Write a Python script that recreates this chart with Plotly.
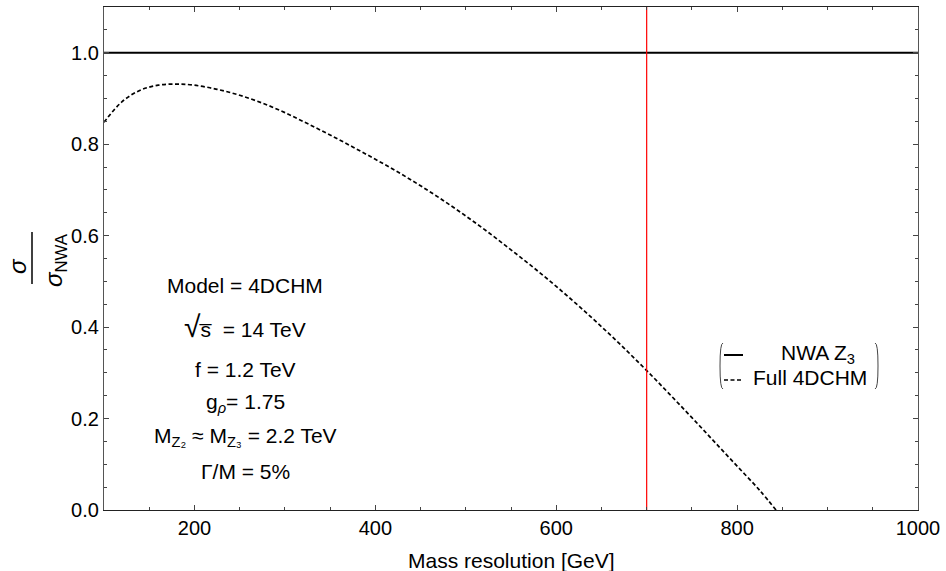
import plotly.graph_objects as go

# Full 4DCHM ratio sigma/sigma_NWA vs mass resolution
mass_res = [100, 120, 140, 160, 180, 200, 225, 250, 275, 300, 325, 350, 375, 400, 425, 450,
            475, 500, 525, 550, 575, 600, 625, 650, 675, 700, 725, 750, 775, 800, 825, 843]
ratio_full = [0.848, 0.893, 0.918, 0.929, 0.9315, 0.929, 0.920, 0.907, 0.890, 0.869, 0.845,
              0.820, 0.794, 0.767, 0.739, 0.709, 0.677, 0.643, 0.607, 0.569, 0.530, 0.489,
              0.446, 0.401, 0.354, 0.305, 0.254, 0.202, 0.149, 0.096, 0.043, 0.0]

nwa_x = [100, 1000]
nwa_y = [1.0, 1.0]

cut_x = [700, 700]
cut_y = [0, 1.1]

x_ticks = [200, 400, 600, 800, 1000]
y_ticks = [0.0, 0.2, 0.4, 0.6, 0.8, 1.0]

info_lines = [
    "Model = 4DCHM",
    "<span style='font-size:30px'>√</span>s̅  = 14 TeV",
    "f = 1.2 TeV",
    "g<sub><i>ρ</i></sub>= 1.75",
    "M<sub>Z₂</sub> ≈ M<sub>Z₃</sub> = 2.2 TeV",
    "Γ/M = 5%",
]

FONT = "Liberation Sans, Arial, Helvetica, sans-serif"


def px_to_paper_x(px):
    return (px - 104) / (918 - 104)


def px_to_paper_y(py):
    return 1 - (py - 7) / (510 - 7)


fig = go.Figure()
fig.add_trace(go.Scatter(x=nwa_x, y=nwa_y, mode="lines",
                         line=dict(color="black", width=2), showlegend=False))
fig.add_trace(go.Scatter(x=mass_res, y=ratio_full, mode="lines", line_shape="spline",
                         line=dict(color="black", width=1.7, dash="4px,2.5px"), showlegend=False))
fig.add_trace(go.Scatter(x=cut_x, y=cut_y, mode="lines",
                         line=dict(color="red", width=1.2), showlegend=False))

# parameter text block
info_y_px = [285, 326, 369, 403, 437, 471]
annotations = []
for txt, ypx in zip(info_lines, info_y_px):
    annotations.append(dict(
        text=txt, x=px_to_paper_x(245), xref="paper", xanchor="center",
        y=px_to_paper_y(ypx), yref="paper", yanchor="middle",
        showarrow=False, font=dict(family=FONT, size=21, color="black")))

# legend texts
annotations.append(dict(text="NWA Z<sub>3</sub>", x=px_to_paper_x(818), y=px_to_paper_y(354),
                        xref="paper", yref="paper", xanchor="center", yanchor="middle",
                        showarrow=False, font=dict(family=FONT, size=21, color="black")))
annotations.append(dict(text="Full 4DCHM", x=px_to_paper_x(810), y=px_to_paper_y(377),
                        xref="paper", yref="paper", xanchor="center", yanchor="middle",
                        showarrow=False, font=dict(family=FONT, size=21, color="black")))

# y-axis label as a fraction
annotations.append(dict(text="<i>σ</i>", x=px_to_paper_x(17), y=px_to_paper_y(266),
                        xref="paper", yref="paper", xanchor="center", yanchor="middle",
                        textangle=-90, showarrow=False,
                        font=dict(family=FONT, size=24, color="black")))
annotations.append(dict(text="<i>σ</i><sub>NWA</sub>", x=px_to_paper_x(55), y=px_to_paper_y(260),
                        xref="paper", yref="paper", xanchor="center", yanchor="middle",
                        textangle=-90, showarrow=False,
                        font=dict(family=FONT, size=24, color="black")))

# x-axis title
annotations.append(dict(text="Mass resolution [GeV]", x=px_to_paper_x(511), y=px_to_paper_y(560),
                        xref="paper", yref="paper", xanchor="center", yanchor="middle",
                        showarrow=False, font=dict(family=FONT, size=21, color="black")))

shapes = [
    # fraction bar
    dict(type="line", xref="paper", yref="paper",
         x0=px_to_paper_x(32), x1=px_to_paper_x(32),
         y0=px_to_paper_y(232), y1=px_to_paper_y(284),
         line=dict(color="black", width=1.5)),
    # legend samples
    dict(type="line", xref="paper", yref="paper",
         x0=px_to_paper_x(724), x1=px_to_paper_x(743),
         y0=px_to_paper_y(355), y1=px_to_paper_y(355),
         line=dict(color="black", width=2)),
    dict(type="line", xref="paper", yref="paper",
         x0=px_to_paper_x(724), x1=px_to_paper_x(743),
         y0=px_to_paper_y(380), y1=px_to_paper_y(380),
         line=dict(color="black", width=1.7, dash="4px,2.5px")),
]
# legend brackets
ytop, ybot = 343, 389
for (xa, xb) in [(px_to_paper_x(723), px_to_paper_x(720)), (px_to_paper_x(875), px_to_paper_x(878))]:
    yt = px_to_paper_y(ytop)
    yb = px_to_paper_y(ybot)
    ym = (yt + yb) / 2
    shapes.append(dict(type="path", xref="paper", yref="paper",
                       path=f"M {xa},{yt} Q {xb},{yt} {xb},{ym} Q {xb},{yb} {xa},{yb}",
                       line=dict(color="#444", width=1)))

fig.update_layout(
    width=946, height=571,
    margin=dict(l=104, r=28, t=7, b=61),
    paper_bgcolor="white", plot_bgcolor="white",
    font=dict(family=FONT, size=20, color="black"),
    annotations=annotations, shapes=shapes,
    xaxis=dict(range=[100, 1000], tickvals=x_ticks, ticks="inside", ticklen=5,
               tickcolor="#444", showgrid=False, zeroline=False, showline=True,
               linecolor="#222", linewidth=1.2, mirror="ticks",
               minor=dict(dtick=50, tick0=0, ticks="inside", ticklen=3, tickcolor="#444"),
               tickfont=dict(size=20)),
    yaxis=dict(range=[0, 1.1], tickvals=y_ticks, tickformat=".1f", ticks="inside", ticklen=5,
               tickcolor="#444", showgrid=False, zeroline=False, showline=True,
               linecolor="#555", linewidth=1.2, mirror="ticks",
               minor=dict(dtick=0.05, tick0=0, ticks="inside", ticklen=3, tickcolor="#444"),
               tickfont=dict(size=20)),
)

fig.write_html("out.html", config={"displayModeBar": False},
               post_script="document.body.style.margin='0';")
